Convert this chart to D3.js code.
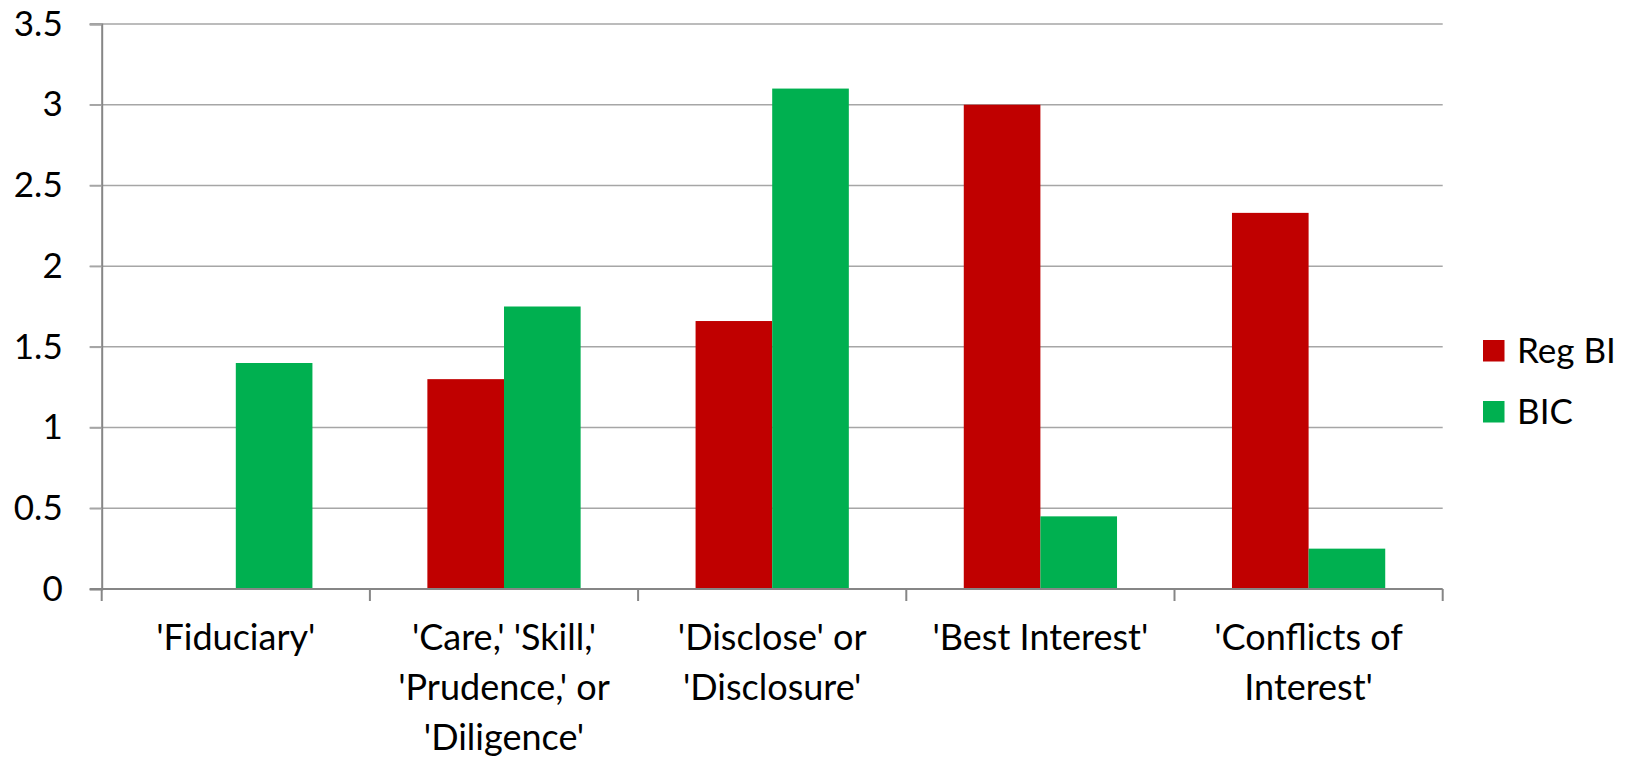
<!DOCTYPE html>
<html>
<head>
<meta charset="utf-8">
<script src="https://cdn.jsdelivr.net/npm/d3@7"></script>
<style>
  body { margin: 0; background: #fff; }
  svg { display: block; font-family: Lato, "Open Sans", sans-serif; }
</style>
</head>
<body>
<div id="chart"></div>
<script>
const categories = [
  "'Fiduciary'",
  "'Care,' 'Skill,'\n'Prudence,' or\n'Diligence'",
  "'Disclose' or\n'Disclosure'",
  "'Best Interest'",
  "'Conflicts of\nInterest'"
];
const seriesNames = ['Reg BI', 'BIC'];
const regBI = [0, 1.3, 1.66, 3.0, 2.33];
const bic = [1.4, 1.75, 3.1, 0.45, 0.25];
const yTicks = [0, 0.5, 1, 1.5, 2, 2.5, 3, 3.5];
const colors = ['#c00000', '#00b050'];

const width = 1627;
const height = 758;
const marginLeft = 101.7;
const marginRight = 184.3;
const marginTop = 24;
const marginBottom = 169;

const rows = categories.map((c, i) => ({ cat: c, values: [regBI[i], bic[i]] }));

const svg = d3.select('#chart').append('svg')
  .attr('width', width)
  .attr('height', height)
  .attr('viewBox', [0, 0, width, height]);

const x = d3.scaleBand()
  .domain(categories)
  .range([marginLeft, width - marginRight])
  .padding(0);

const xs = d3.scaleBand()
  .domain(seriesNames)
  .range([0, x.bandwidth()])
  .paddingInner(0)
  .paddingOuter(0.75);

const y = d3.scaleLinear()
  .domain([0, 3.5])
  .range([height - marginBottom, marginTop]);

// gridlines
svg.append('g')
  .selectAll('line')
  .data(yTicks.filter(d => d > 0))
  .join('line')
    .attr('x1', marginLeft - 12)
    .attr('x2', width - marginRight)
    .attr('y1', d => y(d))
    .attr('y2', d => y(d))
    .attr('stroke', '#a6a6a6')
    .attr('stroke-width', 1.5);

// bars
svg.append('g')
  .selectAll('g')
  .data(rows)
  .join('g')
    .attr('transform', d => `translate(${x(d.cat)},0)`)
  .selectAll('rect')
  .data(d => d.values.map((v, j) => ({ name: seriesNames[j], value: v, j })))
  .join('rect')
    .attr('x', d => xs(d.name))
    .attr('width', xs.bandwidth())
    .attr('y', d => y(d.value))
    .attr('height', d => y(0) - y(d.value))
    .attr('fill', d => colors[d.j]);

// y axis
svg.append('g')
  .attr('transform', `translate(${marginLeft},0)`)
  .call(d3.axisLeft(y).tickValues(yTicks).tickFormat(d3.format('~g')).tickSize(12).tickPadding(27))
  .call(g => g.selectAll('.tick line').attr('stroke', '#a6a6a6').attr('stroke-width', 1.5))
  .call(g => g.select('.domain').attr('stroke', '#868686').attr('stroke-width', 2))
  .call(g => g.selectAll('text').attr('font-size', 35).attr('fill', '#000').attr('font-family', 'Lato'));

// x axis
const xAxis = svg.append('g')
  .attr('transform', `translate(0,${y(0)})`);

xAxis.append('line')
  .attr('x1', marginLeft - 12)
  .attr('x2', width - marginRight)
  .attr('stroke', '#868686')
  .attr('stroke-width', 2);

xAxis.selectAll('line.tk')
  .data(categories.map(c => x(c)).concat([x(categories[categories.length - 1]) + x.bandwidth()]))
  .join('line')
    .attr('class', 'tk')
    .attr('x1', d => d)
    .attr('x2', d => d)
    .attr('y1', 0)
    .attr('y2', 12)
    .attr('stroke', '#868686')
    .attr('stroke-width', 2);

xAxis.selectAll('text.cat')
  .data(categories)
  .join('text')
    .attr('class', 'cat')
    .attr('x', d => x(d) + x.bandwidth() / 2)
    .attr('y', 61)
    .attr('text-anchor', 'middle')
    .attr('font-size', 36)
    .attr('fill', '#000')
  .selectAll('tspan')
  .data(d => d.split('\n'))
  .join('tspan')
    .attr('x', function() { return d3.select(this.parentNode).attr('x'); })
    .attr('dy', (d, i) => i === 0 ? 0 : 50)
    .text(d => d);

// legend
const legend = svg.append('g')
  .attr('transform', `translate(1483,340)`);

legend.selectAll('g')
  .data(seriesNames)
  .join('g')
    .attr('transform', (d, i) => `translate(0,${i * 61})`)
    .call(g => g.append('rect')
      .attr('width', 21.5)
      .attr('height', 21.5)
      .attr('fill', (d, i) => colors[i]))
    .call(g => g.append('text')
      .attr('x', 34)
      .attr('y', 11)
      .attr('dy', '0.35em')
      .attr('font-size', 35)
      .attr('fill', '#000')
      .text(d => d));
</script>
</body>
</html>
